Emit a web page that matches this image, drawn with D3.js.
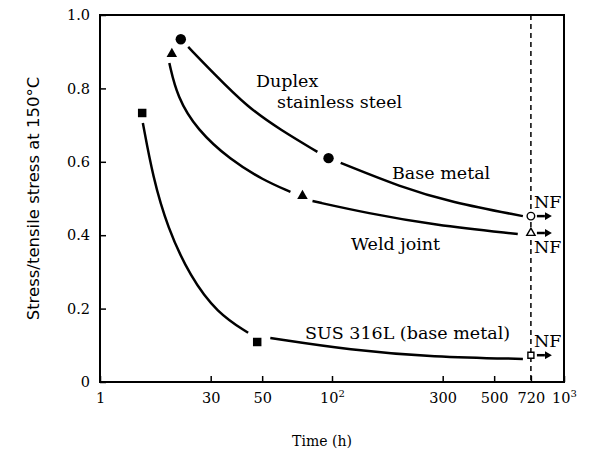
<!DOCTYPE html>
<html>
<head>
<meta charset="utf-8">
<script src="https://cdn.jsdelivr.net/npm/d3@7"></script>
<style>
  body { margin: 0; background: #fff; }
  svg { display: block; }
</style>
</head>
<body>
<div id="chart"></div>
<script>
// time (h) vs stress ratio
const xTicks = [10, 30, 50, 100, 300, 500, 720, 1000];
const xTickLabels = ['1', '30', '50', '10^2', '300', '500', '720', '10^3'];
const yTicks = [0, 0.2, 0.4, 0.6, 0.8, 1.0];
const yTickLabels = ['0', '0.2', '0.4', '0.6', '0.8', '1.0'];

// measured points (filled markers)
const baseMarks = [[22.3, 0.934], [96.6, 0.610]];
const weldMarks = [[20.4, 0.894], [74.6, 0.507]];
const susMarks = [[15.2, 0.733], [47.6, 0.109]];

// not failed at 720 h (open markers)
const nfTime = 720;
const nfShapes = ['circle', 'triangle', 'square'];
const nfValues = [0.452, 0.406, 0.073];

// fitted curves, drawn in pieces between the markers
const baseCurve1 = [[24.0, 0.913], [30.8, 0.842], [43.2, 0.749], [60.0, 0.687], [86.5, 0.627]];
const baseCurve2 = [[109, 0.597], [198, 0.531], [325, 0.490], [665, 0.452]];
const weldCurve1 = [[19.9, 0.869], [21.5, 0.777], [26.2, 0.687], [36.5, 0.605], [50.6, 0.550], [66.2, 0.518]];
const weldCurve2 = [[82.4, 0.493], [142, 0.460], [274, 0.428], [632, 0.403]];
const susCurve1 = [[15.3, 0.706], [16.9, 0.559], [19.5, 0.422], [24.5, 0.286], [32.0, 0.188], [43.5, 0.134]];
const susCurve2 = [[54.2, 0.120], [120, 0.087], [274, 0.068], [665, 0.063]];

const width = 600;
const height = 456;
const margin = { top: 15, right: 36, bottom: 74, left: 100 };
const serif = 'DejaVu Serif, serif';

const svg = d3.select('#chart').append('svg')
  .attr('width', width)
  .attr('height', height);

const xScale = d3.scaleLog()
  .domain([10, 1000])
  .range([margin.left, width - margin.right]);

const yScale = d3.scaleLinear()
  .domain([0, 1])
  .range([height - margin.bottom, margin.top]);

// dashed line at 720 h
svg.append('line')
  .attr('x1', xScale(nfTime)).attr('x2', xScale(nfTime))
  .attr('y1', yScale(1)).attr('y2', yScale(0))
  .attr('stroke', '#000')
  .attr('stroke-width', 1.5)
  .attr('stroke-dasharray', '5,4');

// x axis, ticks pointing inward
const xAxis = svg.append('g')
  .attr('transform', `translate(0, ${yScale(0)})`)
  .call(d3.axisBottom(xScale)
    .tickValues(xTicks)
    .tickSizeInner(-6)
    .tickSizeOuter(0)
    .tickPadding(11)
    .tickFormat((d, i) => xTickLabels[i]));
xAxis.select('.domain').remove();
xAxis.selectAll('line').attr('stroke-width', 1.5);
xAxis.selectAll('text')
  .attr('font-family', serif)
  .attr('font-size', 14.5)
  .attr('fill', '#000')
  .each(function (d, i) {
    const label = xTickLabels[i];
    if (label.includes('^')) {
      const [base, sup] = label.split('^');
      const t = d3.select(this).text(null);
      t.append('tspan').text(base);
      t.append('tspan').attr('dy', -6).attr('font-size', 10).text(sup);
    }
  });

// y axis
const yAxis = svg.append('g')
  .attr('transform', `translate(${margin.left}, 0)`)
  .call(d3.axisLeft(yScale)
    .tickValues(yTicks)
    .tickSizeInner(-6)
    .tickSizeOuter(0)
    .tickPadding(10)
    .tickFormat((d, i) => yTickLabels[i]));
yAxis.select('.domain').remove();
yAxis.selectAll('line').attr('stroke-width', 1.5);
yAxis.selectAll('text')
  .attr('font-family', serif)
  .attr('font-size', 14.5)
  .attr('fill', '#000');

// frame
svg.append('rect')
  .attr('x', xScale(10))
  .attr('y', yScale(1))
  .attr('width', xScale(1000) - xScale(10))
  .attr('height', yScale(0) - yScale(1))
  .attr('fill', 'none')
  .attr('stroke', '#000')
  .attr('stroke-width', 2);

// axis titles
svg.append('text')
  .attr('transform', `translate(39, ${(yScale(0) + yScale(1)) / 2}) rotate(-90)`)
  .attr('text-anchor', 'middle')
  .attr('font-family', 'DejaVu Sans, sans-serif')
  .attr('font-size', 16.5)
  .text('Stress/tensile stress at 150°C');

svg.append('text')
  .attr('x', 322)
  .attr('y', 446)
  .attr('text-anchor', 'middle')
  .attr('font-family', serif)
  .attr('font-size', 14)
  .text('Time (h)');

// curves
const line = d3.line()
  .x(d => xScale(d[0]))
  .y(d => yScale(d[1]))
  .curve(d3.curveBasis);

[baseCurve1, baseCurve2, weldCurve1, weldCurve2, susCurve1, susCurve2].forEach(c => {
  svg.append('path')
    .datum(c)
    .attr('d', line)
    .attr('fill', 'none')
    .attr('stroke', '#000')
    .attr('stroke-width', 2.5);
});

// filled markers
const symbols = {
  circle: d3.symbolCircle,
  triangle: d3.symbolTriangle,
  square: d3.symbolSquare
};
const drawMarks = (data, shape, size) => {
  svg.selectAll(null)
    .data(data)
    .enter()
    .append('path')
    .attr('d', d3.symbol().type(symbols[shape]).size(size))
    .attr('transform', d => `translate(${xScale(d[0])}, ${yScale(d[1])})`)
    .attr('fill', '#000');
};
drawMarks(baseMarks, 'circle', 85);
drawMarks(weldMarks, 'triangle', 48);
drawMarks(susMarks, 'square', 72);

// open markers + arrows at 720 h
svg.append('defs').append('marker')
  .attr('id', 'head')
  .attr('markerUnits', 'userSpaceOnUse')
  .attr('markerWidth', 8).attr('markerHeight', 8)
  .attr('refX', 0).attr('refY', 4)
  .attr('orient', 'auto')
  .append('path')
  .attr('d', 'M0,0 L7,4 L0,8 Z')
  .attr('fill', '#000');

const openSizes = { circle: 45, triangle: 30, square: 36 };
nfValues.forEach((v, i) => {
  const cx = xScale(nfTime);
  const cy = yScale(v);
  svg.append('path')
    .attr('d', d3.symbol().type(symbols[nfShapes[i]]).size(openSizes[nfShapes[i]]))
    .attr('transform', `translate(${cx}, ${cy})`)
    .attr('fill', '#fff')
    .attr('stroke', '#000')
    .attr('stroke-width', 1.4);
  svg.append('line')
    .attr('x1', cx + 6).attr('x2', cx + 14)
    .attr('y1', cy).attr('y2', cy)
    .attr('stroke', '#000')
    .attr('stroke-width', 2.5)
    .attr('marker-end', 'url(#head)');
});

// text labels in the plot
const labels = [
  { text: 'Duplex', x: 256, y: 87 },
  { text: 'stainless steel', x: 277, y: 108 },
  { text: 'Base metal', x: 392, y: 179 },
  { text: 'Weld joint', x: 351, y: 250 },
  { text: 'SUS 316L (base metal)', x: 305, y: 339 },
  { text: 'NF', x: 534, y: 208 },
  { text: 'NF', x: 534, y: 253 },
  { text: 'NF', x: 534, y: 347 }
];
svg.selectAll(null)
  .data(labels)
  .enter()
  .append('text')
  .attr('x', d => d.x)
  .attr('y', d => d.y)
  .attr('font-family', serif)
  .attr('font-size', 17.5)
  .text(d => d.text);
</script>
</body>
</html>
